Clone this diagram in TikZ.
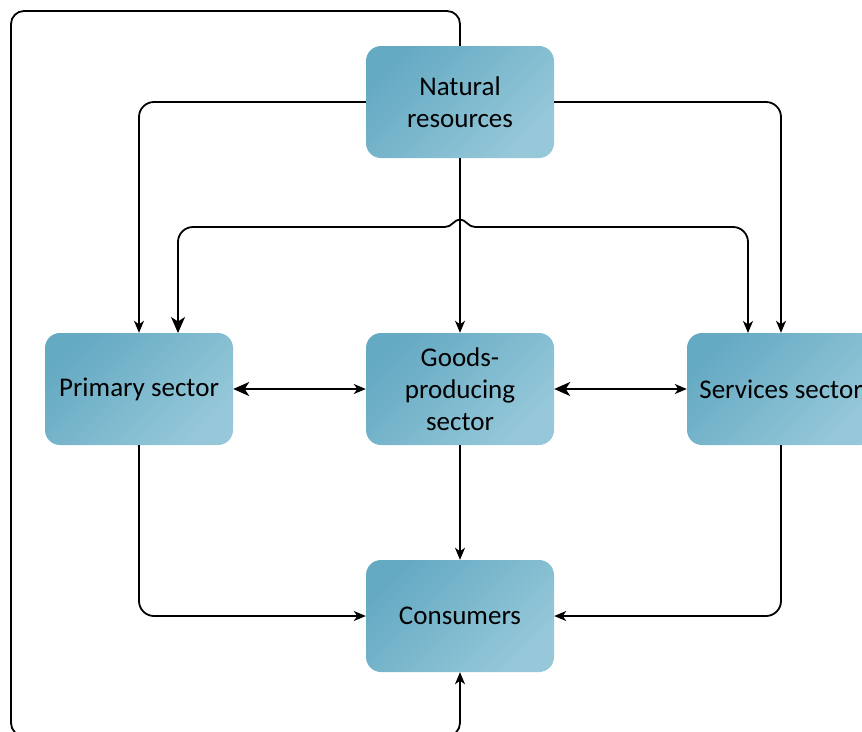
\documentclass[tikz,border=0pt]{standalone}
\usepackage{fontspec}
\setmainfont{Carlito}
\usetikzlibrary{arrows.meta}
\definecolor{boxdark}{RGB}{101,170,195}
\definecolor{boxlight}{RGB}{150,200,217}
\tikzset{
  sector/.style={rectangle, rounded corners=15pt, inner sep=0pt,
    minimum width=188pt, minimum height=112pt, align=center,
    top color=boxdark, bottom color=boxlight, shading angle=45,
    font=\fontsize{27}{32}\selectfont, text=black},
  link/.style={line width=1.8pt, draw=black, rounded corners=15pt},
  tipS/.tip={Stealth[length=12pt,width=10pt,inset=3.5pt]},
  tipB/.tip={Stealth[length=16pt,width=14pt,inset=4.5pt]},
  oneway/.style={link, -tipS},
  twoway/.style={link, tipB-tipS},
}
\begin{document}
\begin{tikzpicture}[x=1pt, y=-1pt]
\useasboundingbox (0,0) rectangle (862,731);
\clip (0,0) rectangle (862,731);

% sectors
\node[sector] (nat)   at (460,102) {Natural\\resources};
\node[sector] (prim)  at (139,389) {Primary sector};
\node[sector] (goods) at (460,389) {Goods-\\producing\\sector};
\node[sector] (serv)  at (781,389) {Services sector};
\node[sector] (cons)  at (460,616) {Consumers};

% helper points for the bracket and the outer loop
\coordinate (brL)  at (178,333);
\coordinate (brR)  at (748,333);
\coordinate (hopA) at (445,227);
\coordinate (hopB) at (475,227);
\coordinate (loopTL) at (11,11);
\coordinate (loopBR) at (460,736);

% resources feed the three sectors
\draw[oneway] (nat.west) -| (prim.north);
\draw[oneway] (nat.east) -| (serv.north);
\draw[oneway] (nat.south) -- (goods.north);

% exchange between primary and services, hopping over the middle line
\draw[twoway, sharp corners] (brL) -- (178,242)
  .. controls (178,233.7) and (184.7,227) .. (193,227)
  -- (hopA)
  .. controls (452,227) and (454,219.5) .. (460,219.5)
  .. controls (466,219.5) and (468,227) .. (hopB)
  -- (733,227) .. controls (741.3,227) and (748,233.7) .. (748,242) -- (brR);

% exchanges between neighbouring sectors
\draw[twoway] (prim.east) -- (goods.west);
\draw[twoway] (goods.east) -- (serv.west);

% sectors supply consumers
\draw[oneway] (goods.south) -- (cons.north);
\draw[oneway] (prim.south) |- (cons.west);
\draw[oneway] (serv.south) |- (cons.east);

% outer loop from resources round to consumers
\draw[oneway, rounded corners=13pt] (nat.north) |- (loopTL) |- (loopBR) -- (cons.south);
\end{tikzpicture}
\end{document}
